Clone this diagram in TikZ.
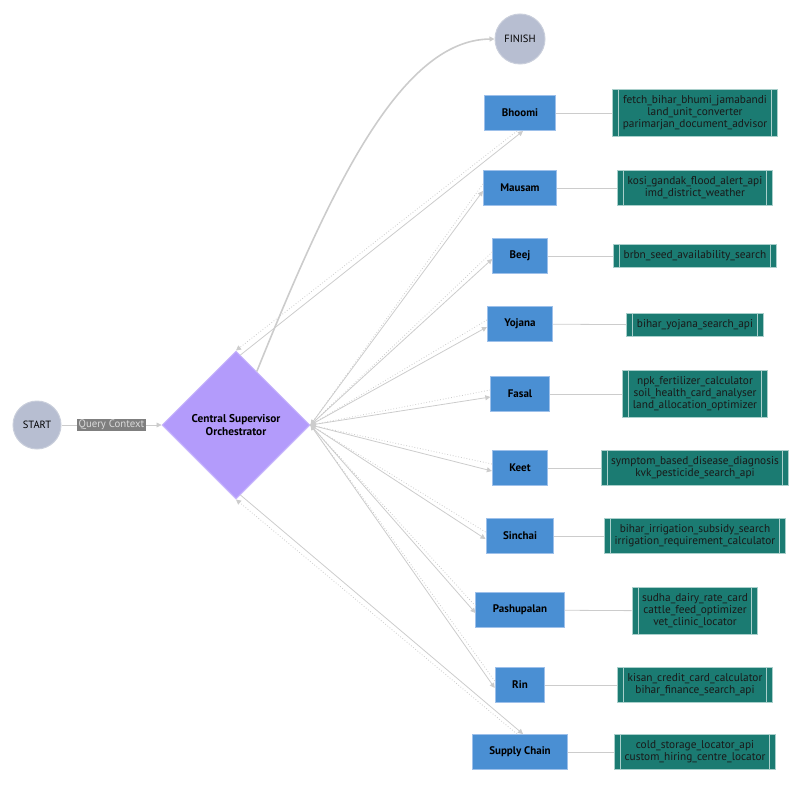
\documentclass[tikz,border=0pt]{standalone}
\usepackage{fontspec}
\setmainfont{PT Sans}
\usepackage{tikz}
\usetikzlibrary{calc,positioning,shapes.geometric,arrows.meta}
\definecolor{termFill}{HTML}{B7BED1}
\definecolor{termEdge}{HTML}{C9CEDB}
\definecolor{orchFill}{HTML}{B39BFB}
\definecolor{orchEdge}{HTML}{C9B8FC}
\definecolor{agentFill}{HTML}{4A8FD3}
\definecolor{agentEdge}{HTML}{9DC0EA}
\definecolor{toolFill}{HTML}{1B7B72}
\definecolor{toolEdge}{HTML}{A9CFCB}
\definecolor{lineGray}{HTML}{CCCCCC}
\definecolor{labelGray}{HTML}{7F7F7F}
\definecolor{labelText}{HTML}{DADADA}

\begin{document}
\begin{tikzpicture}[x=1pt,y=-1pt,
  term/.style={circle,draw=termEdge,fill=termFill,line width=1pt,
               minimum size=48pt,inner sep=0pt,font=\fontsize{10.5}{12}\selectfont},
  orchbox/.style={diamond,aspect=1,draw=orchEdge,fill=orchFill,line width=1pt,
                  minimum size=148pt,inner sep=0pt,align=center,
                  font=\fontsize{11.3}{13}\selectfont\bfseries},
  agent/.style={draw=agentEdge,fill=agentFill,line width=1pt,
                minimum height=35pt,inner xsep=17pt,
                font=\fontsize{11}{12}\selectfont\bfseries},
  tools/.style={draw=toolEdge,fill=toolFill,line width=1pt,align=center,
                inner xsep=10pt,inner ysep=6pt,text=black!90,
                font=\fontsize{11.3}{12}\selectfont,
                path picture={
                  \draw[toolEdge,line width=1pt]
                    ([xshift=6pt]path picture bounding box.north west) --
                    ([xshift=6pt]path picture bounding box.south west);
                  \draw[toolEdge,line width=1pt]
                    ([xshift=-6pt]path picture bounding box.north east) --
                    ([xshift=-6pt]path picture bounding box.south east);}},
  qlabel/.style={fill=labelGray,text=labelText,inner xsep=1.5pt,inner ysep=1pt,
                 font=\fontsize{10.8}{12}\selectfont},
  flow/.style={draw=lineGray,line width=0.8pt,-{Triangle[length=5pt,width=5pt]}},
  back/.style={flow,dotted},
  link/.style={draw=lineGray,line width=0.8pt}]

  \useasboundingbox (0,0) rectangle (800,784);

  % entry, supervisor and exit
  \node[term] (start) at (37,425) {START};
  \node[orchbox] (orch) at (236,425) {Central Supervisor\\Orchestrator};
  \node[term,minimum size=50pt] (finish) at (520,39) {FINISH};

  % agents
  \node[agent] (bhoomi)  at (520,113) {Bhoomi};
  \node[agent] (mausam)  at (520,188) {Mausam};
  \node[agent] (beej)    at (520,256) {Beej};
  \node[agent] (yojana)  at (520,324) {Yojana};
  \node[agent] (fasal)   at (520,394) {Fasal};
  \node[agent] (keet)    at (520,468) {Keet};
  \node[agent] (sinchai) at (520,536) {Sinchai};
  \node[agent] (pashu)   at (520,610) {Pashupalan};
  \node[agent] (rin)     at (520,685) {Rin};
  \node[agent] (supply)  at (520,752) {Supply Chain};

  % tool sets
  \node[tools] (tBhoomi)  at (695,113) {fetch\_bihar\_bhumi\_jamabandi\\land\_unit\_converter\\parimarjan\_document\_advisor};
  \node[tools] (tMausam)  at (695,188) {kosi\_gandak\_flood\_alert\_api\\imd\_district\_weather};
  \node[tools] (tBeej)    at (695,256) {brbn\_seed\_availability\_search};
  \node[tools] (tYojana)  at (695,325) {bihar\_yojana\_search\_api};
  \node[tools] (tFasal)   at (695,394) {npk\_fertilizer\_calculator\\soil\_health\_card\_analyser\\land\_allocation\_optimizer};
  \node[tools] (tKeet)    at (695,468) {symptom\_based\_disease\_diagnosis\\kvk\_pesticide\_search\_api};
  \node[tools] (tSinchai) at (695,536) {bihar\_irrigation\_subsidy\_search\\irrigation\_requirement\_calculator};
  \node[tools] (tPashu)   at (695,611) {sudha\_dairy\_rate\_card\\cattle\_feed\_optimizer\\vet\_clinic\_locator};
  \node[tools] (tRin)     at (695,685) {kisan\_credit\_card\_calculator\\bihar\_finance\_search\_api};
  \node[tools] (tSupply)  at (695,752) {cold\_storage\_locator\_api\\custom\_hiring\_centre\_locator};

  % connectors
  \draw[flow] (start) -- node[qlabel] {Query Context} (orch);
  \draw[flow,line width=1.6pt] ($(orch.north)!.28!(orch.east)$)
    .. controls (330,190) and (400,40) .. (finish.west);

  \draw[flow] ($(orch.north)!.06!(orch.east)$) -- ([xshift=3pt]bhoomi.south);
  \draw[back] ([xshift=-3pt]bhoomi.south) -- (orch.north);
  \foreach \n in {mausam,beej,yojana,fasal,keet,sinchai,pashu,rin} {
    \draw[flow] (orch.east) -- ([yshift=-3pt]\n.west);
    \draw[back] ([yshift=4pt]\n.west) -- (orch.east);
  }
  \draw[flow] ($(orch.south)!.06!(orch.east)$) -- ([xshift=3pt]supply.north);
  \draw[back] ([xshift=-3pt]supply.north) -- (orch.south);

  \foreach \a/\t in {bhoomi/tBhoomi,mausam/tMausam,beej/tBeej,yojana/tYojana,
                     fasal/tFasal,keet/tKeet,sinchai/tSinchai,pashu/tPashu,
                     rin/tRin,supply/tSupply}
    \draw[link] (\a) -- (\t);
\end{tikzpicture}
\end{document}
